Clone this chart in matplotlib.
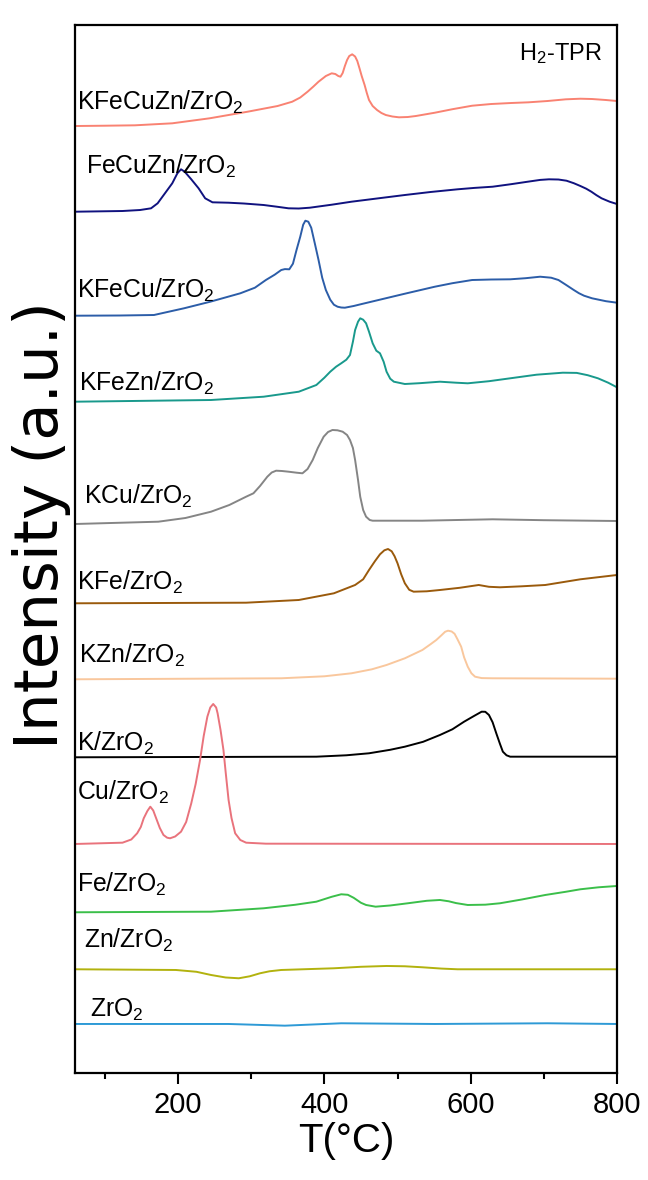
import matplotlib
matplotlib.use("Agg")
import matplotlib.pyplot as plt
from matplotlib.ticker import MultipleLocator, NullLocator

plt.rcParams['font.family'] = ['Liberation Sans', 'DejaVu Sans']
plt.rcParams['mathtext.default'] = 'regular'

# ---- H2-TPR profiles: temperature (°C) and intensity (a.u., relative to each baseline) ----
t_kfecuzn = [59, 100, 141, 192, 243, 295, 336, 356, 367, 377, 385, 392, 402, 410, 415, 419, 422, 425,
             428, 431, 434, 438, 442, 445, 448, 451, 455, 458, 461, 466, 472, 478, 484, 493, 502, 514,
             525, 551, 575, 602, 628, 655, 679, 705, 730, 750, 766, 785, 800]
i_kfecuzn = [0, 0.3, 0.7, 2.7, 7.7, 14.3, 20, 24.3, 28.5, 34.3, 39.5, 44.3, 50, 52.7, 52, 50, 49.3, 53,
             60, 66, 70, 71.7, 69.5, 65, 57.7, 50, 41, 33, 26, 20, 16, 13, 11, 9.5, 8.7, 9,
             10, 13.3, 16.8, 20.3, 22, 23, 23.7, 25, 26.7, 27.3, 27, 26, 25]

t_fecuzn = [59, 124, 148, 163, 172, 182, 192, 199, 204, 209, 218, 228, 237, 247, 269, 290, 317, 335,
            351, 365, 380, 410, 437, 475, 510, 545, 582, 605, 630, 655, 678, 695, 707, 720, 731, 741,
            750, 758, 765, 772, 779, 790, 800]
i_fecuzn = [0, 0.7, 1.7, 3.4, 8.4, 18.4, 28.4, 38.4, 42.4, 40, 32.4, 23.4, 13.4, 9.4, 9, 8.2, 6.7, 5,
            3.4, 3.2, 4, 7, 10, 13.5, 16.7, 19.7, 22.4, 23.8, 25, 27.5, 30, 31.8, 32.4, 32.2, 31, 28.5,
            25.7, 23, 20, 16.5, 13.4, 10, 7.7]

t_kfecu = [59, 120, 167, 208, 244, 285, 305, 320, 332, 341, 346, 352, 357, 362, 367, 371, 374, 378, 382,
           387, 392, 397, 402, 408, 413, 418, 423, 428, 440, 450, 474, 510, 551, 575, 602, 628, 654, 675,
           695, 710, 720, 730, 741, 748, 755, 766, 785, 800]
i_kfecu = [0, 0.2, 0.7, 7.4, 14, 22.4, 28, 35.7, 41, 45.7, 46.6, 46.4, 52, 66, 79, 91, 95, 94, 88,
           72, 55.7, 38, 25.7, 16, 11, 9, 8.2, 8, 9.7, 11.5, 15.7, 22, 29, 32.5, 35.7, 36.2, 36.4, 37.5,
           39, 38, 35.7, 31, 25.7, 22.5, 20, 17.4, 14.5, 13]

t_kfezn = [59, 245, 317, 365, 389, 400, 408, 416, 423, 430, 435, 439, 442, 446, 449, 453, 457, 461, 466,
           471, 476, 481, 485, 490, 495, 510, 530, 558, 580, 596, 625, 654, 690, 726, 745, 760, 774, 788, 800]
i_kfezn = [0, 1.7, 5, 10, 16.7, 24, 30, 35, 38.4, 42, 46.7, 60, 71.7, 80, 83.4, 82, 78.4, 70, 58.4,
           51, 48.4, 40, 30, 23, 20, 17.7, 18.5, 20, 19, 18.4, 20.5, 23.4, 27, 29, 28.8, 26.5, 23.4, 19, 14.4]

t_kcu = [59, 173, 210, 245, 270, 293, 303, 312, 322, 328, 334, 342, 351, 362, 370, 377, 384, 391, 399,
         405, 411, 418, 425, 431, 435, 439, 442, 446, 449, 453, 457, 462, 466, 534, 630, 700, 800]
i_kcu = [0, 2.3, 6, 12.3, 19, 27.3, 30.7, 38, 47.3, 51.5, 53.3, 53, 52.3, 51.3, 50.7, 55, 64, 76, 87.3,
         92, 94, 93.7, 92.3, 89, 84, 76, 64, 44, 27.3, 14, 7.3, 4, 3.3, 3.3, 4.7, 3.8, 3]

t_kfe = [59, 293, 365, 413, 442, 453, 461, 469, 476, 482, 487, 492, 496, 500, 505, 510, 516, 522, 540,
         558, 585, 611, 625, 640, 670, 702, 750, 800]
i_kfe = [0, 0.6, 3.3, 10, 18.3, 24, 33.3, 42, 49, 53, 54.3, 52, 47, 40, 29, 20, 13.5, 11.6, 12,
         13.3, 15.5, 18.3, 16.5, 16, 17, 18.3, 24, 28.3]

t_kzn = [59, 341, 400, 437, 465, 485, 510, 534, 545, 553, 560, 565, 569, 574, 578, 582, 587, 591, 596,
         601, 606, 615, 630, 800]
i_kzn = [0, 1, 3, 6, 10, 14.3, 21, 29.3, 35, 39.3, 44, 47.5, 48.6, 47.8, 45.5, 40, 32.6, 22, 12.6,
         6, 2.6, 1.2, 1, 0.6]

t_k = [59, 389, 430, 461, 490, 510, 535, 558, 575, 591, 605, 615, 620, 625, 630, 635, 640, 644, 649, 654, 800]
i_k = [0, 0.6, 2, 4, 7.5, 10.6, 15.5, 22.3, 28, 35.6, 41.5, 45.6, 45.5, 42.3, 35, 24, 13.5, 5.6, 2, 0.6, 0.6]

t_cu = [59, 124, 136, 144, 149, 153, 158, 162, 166, 170, 175, 180, 185, 189, 196, 204, 211, 218, 224,
        230, 235, 240, 244, 248, 252, 254, 258, 262, 265, 269, 273, 278, 285, 293, 320, 800]
i_cu = [0, 1.3, 4.5, 10.7, 17, 25.7, 33, 37.3, 33.5, 25.7, 16, 9, 6.3, 5.7, 7.5, 12.3, 22, 40.7, 60,
        84, 108, 127.3, 136.5, 140, 136.5, 130.7, 114, 94, 72, 44, 26, 10.7, 4, 1.3, 0.3, 0]

t_fe = [59, 245, 317, 360, 389, 410, 423, 432, 440, 450, 457, 470, 490, 514, 540, 558, 570, 580, 596,
        620, 640, 670, 702, 730, 750, 775, 800]
i_fe = [0, 0.6, 4, 7.5, 10.6, 15.5, 18, 17.5, 14.5, 9.5, 7.3, 5.6, 6.8, 9, 11.5, 12.3, 11, 9.2, 7.3,
        7.6, 9, 12.8, 17.3, 20.5, 23, 25, 26.3]

t_zn = [59, 197, 225, 245, 265, 283, 298, 312, 325, 341, 413, 450, 485, 510, 534, 560, 582, 800]
i_zn = [0, -0.7, -2.5, -5.7, -8.2, -9, -7, -4, -2, -0.7, 1, 2.5, 3.3, 3, 2, 0.7, 0, 0]

t_zro2 = [59, 269, 346, 423, 551, 705, 800]
i_zro2 = [0, 0, -1.7, 0.7, 0, 0.7, 0]

samples = ['KFeCuZn/ZrO$_2$', 'FeCuZn/ZrO$_2$', 'KFeCu/ZrO$_2$', 'KFeZn/ZrO$_2$',
           'KCu/ZrO$_2$', 'KFe/ZrO$_2$', 'KZn/ZrO$_2$', 'K/ZrO$_2$',
           'Cu/ZrO$_2$', 'Fe/ZrO$_2$', 'Zn/ZrO$_2$', 'ZrO$_2$']
offsets = [947, 861.3, 757.3, 671.3, 549, 469.7, 393.7, 315.7, 229, 160.7, 103.7, 49]

temps = [t_kfecuzn, t_fecuzn, t_kfecu, t_kfezn, t_kcu, t_kfe, t_kzn, t_k, t_cu, t_fe, t_zn, t_zro2]
intens = [i_kfecuzn, i_fecuzn, i_kfecu, i_kfezn, i_kcu, i_kfe, i_kzn, i_k, i_cu, i_fe, i_zn, i_zro2]

colors = ['#F98272', '#10127F', '#2C5DA8', '#19998C', '#858585', '#9A5A0C',
          '#F9C79D', '#000000', '#E9737C', '#3BBF4A', '#B2B20E', '#2E9AD6']

# label anchor (left edge, vertical centre) for each trace
label_x = [61.7, 73.8, 61.7, 64.2, 71.3, 61.7, 64.2, 61.7, 61.7, 61.7, 71.3, 79.5]
label_y = [971, 907, 783, 690, 577, 491, 418, 330, 281, 189, 133, 63]

fig = plt.figure(figsize=(6.48, 11.8), dpi=100)
ax = fig.add_axes([0.1157, 0.0907, 0.8364, 0.8881])

for t, inten, off, c in zip(temps, intens, offsets, colors):
    ax.plot(t, [v + off for v in inten], color=c, lw=1.4,
            solid_joinstyle='round', solid_capstyle='round')

for name, lx, ly in zip(samples, label_x, label_y):
    ax.text(lx, ly, name, fontsize=17.8, ha='left', va='center', color='black')

ax.text(779, 1019, 'H$_2$-TPR', fontsize=17, ha='right', va='center')

ax.set_xlim(59, 800)
ax.set_ylim(0, 1048)
ax.xaxis.set_major_locator(MultipleLocator(200))
ax.xaxis.set_minor_locator(MultipleLocator(100))
ax.yaxis.set_major_locator(NullLocator())
ax.tick_params(axis='x', which='major', direction='out', length=8, width=1.5, labelsize=21, pad=5)
ax.tick_params(axis='x', which='minor', direction='out', length=4.5, width=1.5)
for s in ax.spines.values():
    s.set_linewidth(1.6)

ax.set_xlabel('T(°C)', fontsize=29, labelpad=2)
ax.set_ylabel('Intensity (a.u.)', fontsize=44, family=['DejaVu Sans'])
ax.yaxis.set_label_coords(-0.008, 0.523)

fig.savefig('out.png', dpi=100)
